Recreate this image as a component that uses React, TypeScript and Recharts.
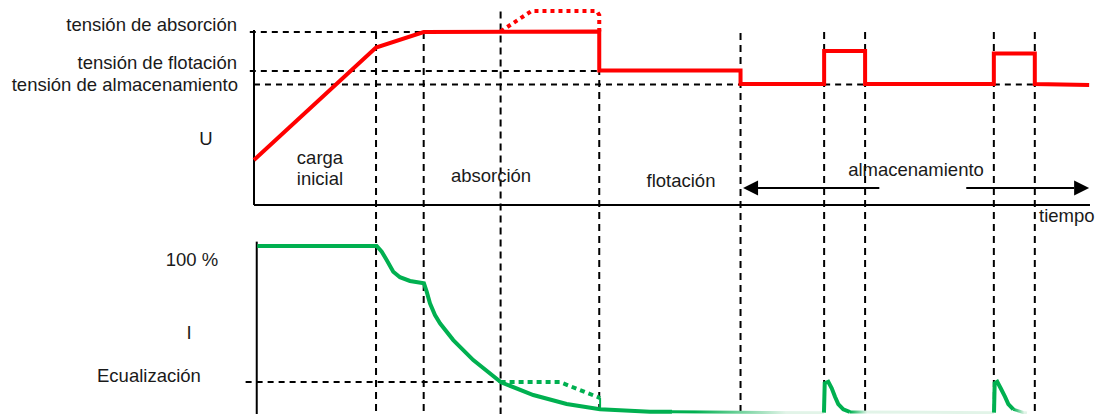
import { ComposedChart, Line, XAxis, YAxis, ReferenceLine } from "recharts";

// time axis (arbitrary units, 0 = start of charge)
const phaseTimes = [14.6, 20.3, 29.5, 41.3, 58.2, 68.2, 73.1, 88.5, 93.4];
const phaseTops = [8.65, 8.65, 9.67, 8.65, 8.6, 8.65, 8.65, 8.65, 8.65];

// voltage levels (arbitrary units)
const levelAbsorption = 8.65;
const levelFloat = 6.7;
const levelStorage = 6.03;

const voltageT = [0, 14.6, 20.3, 41.3, 41.3, 58.2, 58.2, 68.2, 68.2, 73.1, 73.1, 88.5, 88.5, 93.4, 93.4, 99.9];
const voltageV = [2.25, 7.87, 8.65, 8.68, 6.72, 6.72, 6.05, 6.05, 7.7, 7.7, 6.05, 6.05, 7.58, 7.58, 6.05, 6.0];

const voltageEqT = [29.5, 33.2, 41.0, 41.3, 41.3];
const voltageEqV = [8.68, 9.7, 9.7, 9.5, 8.68];

// current in % of max
const levelEq = 19;
const currentT = [0.4, 14.68, 15.28, 15.87, 16.66, 17.46, 18.66, 20.33, 20.66, 21.05, 21.65, 22.25, 23.84, 26.23, 29.55, 33.41, 37.4, 41.39, 47.37, 50];
const currentI = [100, 100, 96.6, 91.7, 84.7, 81.4, 79.2, 77.8, 72.8, 65.9, 58.9, 54.0, 44.0, 32.1, 18.9, 11.3, 6.0, 2.8, 1.4, 1.3];
const fadeT = [50, 58.1, 68.18];
const fadeI = [1.3, 1.0, 0.8];
const spike1T = [68.18, 68.27, 68.7, 69.11, 69.5, 69.89, 70.49, 71.29];
const spike1I = [0.8, 18.3, 19.2, 15.3, 10.3, 5.95, 2.8, 1.2];
const tail1T = [71.29, 80, 88.52];
const tail1I = [1.2, 1.0, 0.8];
const spike2T = [88.52, 88.6, 88.91, 89.32, 89.83, 90.23, 90.83];
const spike2I = [0.8, 18.3, 19.2, 15.3, 10.3, 5.95, 2.8];
const tail2T = [90.83, 92.02, 92.46];
const tail2I = [2.8, 0.9, 0.6];
const currentEqT = [29.5, 30.6, 36.6, 41.4];
const currentEqI = [19, 19, 19, 9.5];

const zip = (ts: number[], vs: number[], key: string) => ts.map((t, k) => ({ t, [key]: vs[k] }));

const RED = "#ff0000";
const GREEN = "#00b050";
const PALE = "#e2f4e8";
const DASH = "7 5";

const arrowShape = (props: any) => {
  const { x1, y1, x2, y2 } = props;
  const dir = x2 > x1 ? 1 : -1;
  const len = 15;
  const half = 7.5;
  return (
    <g>
      <line x1={x1} y1={y1} x2={x2 - dir * len} y2={y2} stroke="#000" strokeWidth={2} />
      <polygon points={`${x2},${y2} ${x2 - dir * len},${y2 - half} ${x2 - dir * len},${y2 + half}`} fill="#000" />
    </g>
  );
};

const FS = 18.5;
const Label = ({ x, y, anchor = "start", children }: any) => {
  const tx = anchor === "middle" ? "-50%" : anchor === "end" ? "-100%" : "0";
  return (
    <div
      style={{
        position: "absolute",
        left: x,
        top: y - 0.85 * FS,
        transform: `translateX(${tx})`,
        fontSize: FS,
        lineHeight: 1,
        whiteSpace: "nowrap",
        color: "#1a1a1a",
      }}
    >
      {children}
    </div>
  );
};

export default function App() {
  const line = (data: any[], key: string, axis: string, stroke: string, extra: any = {}) => (
    <Line
      data={data}
      dataKey={key}
      yAxisId={axis}
      type="linear"
      stroke={stroke}
      strokeWidth={4}
      dot={false}
      activeDot={false}
      isAnimationActive={false}
      {...extra}
    />
  );

  return (
    <div
      style={{
        position: "absolute",
        left: 0,
        top: 0,
        width: 1095,
        height: 414,
        background: "#fff",
        fontFamily: "'Liberation Sans', Arial, sans-serif",
      }}
    >
      <ComposedChart width={1095} height={414} margin={{ top: 0, right: 0, bottom: 0, left: 0 }}>
        <defs>
          <linearGradient id="fadeA" x1="0" y1="0" x2="1" y2="0">
            <stop offset="0" stopColor={GREEN} />
            <stop offset="0.15" stopColor={GREEN} />
            <stop offset="0.75" stopColor={PALE} />
            <stop offset="1" stopColor={PALE} />
          </linearGradient>
          <linearGradient id="fadeB" x1="0" y1="0" x2="1" y2="0">
            <stop offset="0" stopColor={GREEN} />
            <stop offset="0.12" stopColor={PALE} />
            <stop offset="1" stopColor={PALE} />
          </linearGradient>
          <linearGradient id="fadeC" x1="0" y1="0" x2="1" y2="0">
            <stop offset="0" stopColor={GREEN} />
            <stop offset="0.8" stopColor={PALE} />
            <stop offset="1" stopColor={PALE} />
          </linearGradient>
        </defs>
        <XAxis dataKey="t" type="number" domain={[-30.38, 100.6]} allowDataOverflow hide />
        <YAxis yAxisId="u" type="number" domain={[-10.45, 10.25]} allowDataOverflow hide />
        <YAxis yAxisId="i" type="number" domain={[0, 246.43]} allowDataOverflow hide />

        {/* level lines */}
        <ReferenceLine yAxisId="u" segment={[{ x: -0.5, y: levelAbsorption }, { x: 20.3, y: levelAbsorption }]} stroke="#000" strokeWidth={2} strokeDasharray="6 5" />
        <ReferenceLine yAxisId="u" segment={[{ x: -0.5, y: levelFloat }, { x: 41.3, y: levelFloat }]} stroke="#000" strokeWidth={2} strokeDasharray="6 5" />
        <ReferenceLine yAxisId="u" segment={[{ x: 0, y: levelStorage }, { x: 58.2, y: levelStorage }]} stroke="#000" strokeWidth={2} strokeDasharray="6 5" />
        <ReferenceLine yAxisId="u" segment={[{ x: 68.2, y: levelStorage }, { x: 73.1, y: levelStorage }]} stroke="#000" strokeWidth={2} strokeDasharray="6 5" />
        <ReferenceLine yAxisId="u" segment={[{ x: 88.5, y: levelStorage }, { x: 93.4, y: levelStorage }]} stroke="#000" strokeWidth={2} strokeDasharray="6 5" />
        <ReferenceLine yAxisId="i" segment={[{ x: -1.0, y: levelEq }, { x: 29.5, y: levelEq }]} stroke="#000" strokeWidth={2} strokeDasharray="6 5" />

        {/* phase boundaries */}
        {phaseTimes.map((t, k) => (
          <ReferenceLine
            key={`p-${k}`}
            yAxisId="u"
            segment={[{ x: t, y: phaseTops[k] }, { x: t, y: -10.45 }]}
            stroke="#000"
            strokeWidth={2}
            strokeDasharray={DASH}
          />
        ))}

        {/* axes */}
        <ReferenceLine yAxisId="u" segment={[{ x: 0, y: 8.75 }, { x: 0, y: 0 }]} stroke="#000" strokeWidth={2} />
        <ReferenceLine yAxisId="u" segment={[{ x: 0, y: 0 }, { x: 100, y: 0 }]} stroke="#000" strokeWidth={2} />
        <ReferenceLine yAxisId="i" segment={[{ x: 0.33, y: 102.6 }, { x: 0.33, y: 0 }]} stroke="#000" strokeWidth={2} />

        {/* storage arrows */}
        <ReferenceLine yAxisId="u" segment={[{ x: 74.8, y: 0.85 }, { x: 58.5, y: 0.85 }]} shape={arrowShape} />
        <ReferenceLine yAxisId="u" segment={[{ x: 85.2, y: 0.85 }, { x: 99.9, y: 0.85 }]} shape={arrowShape} />

        {/* voltage */}
        {line(zip(voltageEqT, voltageEqV, "v"), "v", "u", RED, { strokeDasharray: "4 4" })}
        {line(zip(voltageT, voltageV, "v"), "v", "u", RED)}

        {/* current */}
        {line(zip(currentEqT, currentEqI, "i"), "i", "i", GREEN, { strokeDasharray: "5 4" })}
        {line(zip([41.4, 41.4], [9.5, 2.8], "i"), "i", "i", GREEN, { strokeWidth: 2 })}
        {line(zip(fadeT, fadeI, "i"), "i", "i", "url(#fadeA)", { strokeWidth: 3 })}
        {line(zip(tail1T, tail1I, "i"), "i", "i", "url(#fadeB)", { strokeWidth: 3 })}
        {line(zip(tail2T, tail2I, "i"), "i", "i", "url(#fadeC)", { strokeWidth: 3 })}
        {line(zip(currentT, currentI, "i"), "i", "i", GREEN)}
        {line(zip(spike1T, spike1I, "i"), "i", "i", GREEN)}
        {line(zip(spike2T, spike2I, "i"), "i", "i", GREEN)}
      </ComposedChart>

      <Label x={237} y={32} anchor="end">tensión de absorción</Label>
      <Label x={237} y={70} anchor="end">tensión de flotación</Label>
      <Label x={238} y={92} anchor="end">tensión de almacenamiento</Label>
      <Label x={206} y={146} anchor="middle">U</Label>
      <Label x={320} y={165} anchor="middle">carga</Label>
      <Label x={320} y={186} anchor="middle">inicial</Label>
      <Label x={491} y={183} anchor="middle">absorción</Label>
      <Label x={681} y={188} anchor="middle">flotación</Label>
      <Label x={916} y={177} anchor="middle">almacenamiento</Label>
      <Label x={1039} y={223}>tiempo</Label>
      <Label x={192} y={267} anchor="middle">100 %</Label>
      <Label x={189} y={340} anchor="middle">I</Label>
      <Label x={97} y={383}>Ecualización</Label>
    </div>
  );
}
